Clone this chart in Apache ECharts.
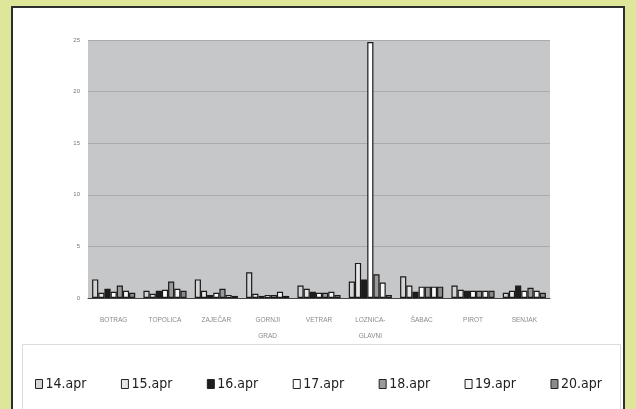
<!DOCTYPE html>
<html>
<head>
<meta charset="utf-8">
<script src="https://cdn.jsdelivr.net/npm/echarts@6/dist/echarts.min.js"></script>
<style>
  html, body { margin: 0; padding: 0; }
  body { width: 636px; height: 409px; background: #dde699; position: relative; overflow: hidden; }
  #frame {
    position: absolute; left: 11px; top: 6px; width: 610px; height: 420px;
    background: #fff; border: 2px solid #2e2e2e;
  }
  #chart { position: absolute; left: 0; top: 0; width: 636px; height: 409px; }
</style>
</head>
<body>
<div id="frame"></div>
<div id="chart"></div>
<script>
const categories = [
  "BOTRAG", "TOPOLICA", "ZAJEČAR", "GORNJI\nGRAD", "VETRAR",
  "LOZNICA-\nGLAVNI", "ŠABAC", "PIROT", "SENJAK"
];
const seriesNames = ["14.apr", "15.apr", "16.apr", "17.apr", "18.apr", "19.apr", "20.apr"];
const apr14 = [1.8, 0.7, 1.8, 2.5, 1.2, 1.6, 2.1, 1.2, 0.5];
const apr15 = [0.5, 0.4, 0.7, 0.4, 0.9, 3.4, 1.2, 0.8, 0.7];
const apr16 = [0.9, 0.7, 0.3, 0.2, 0.6, 1.8, 0.6, 0.7, 1.2];
const apr17 = [0.6, 0.8, 0.5, 0.3, 0.5, 24.8, 1.1, 0.7, 0.7];
const apr18 = [1.2, 1.6, 0.9, 0.3, 0.5, 2.3, 1.1, 0.7, 1.0];
const apr19 = [0.7, 0.9, 0.3, 0.6, 0.6, 1.5, 1.1, 0.7, 0.7];
const apr20 = [0.5, 0.7, 0.2, 0.2, 0.3, 0.3, 1.1, 0.7, 0.5];
const yTicks = [0, 5, 10, 15, 20, 25];

const values = [apr14, apr15, apr16, apr17, apr18, apr19, apr20];
const fills = ["#d4d4d4", "#e6e6e6", "#1e1e1e", "#ffffff", "#9a9a9a", "#f6f6f6", "#8a8a8a"];

const chart = echarts.init(document.getElementById("chart"));

const series = seriesNames.map((name, i) => ({
  name: name,
  type: "bar",
  data: values[i],
  barGap: "0%",
  barCategoryGap: "16%",
  itemStyle: { color: fills[i], borderColor: "#1a1a1a", borderWidth: 1.2 },
}));

chart.setOption({
  animation: false,
  backgroundColor: "transparent",
  grid: { left: 88, right: 86, top: 40, bottom: 111, show: true, backgroundColor: "#c6c7c9", borderWidth: 0 },
  xAxis: {
    type: "category",
    data: categories,
    axisLine: { lineStyle: { color: "#444", width: 1 } },
    axisTick: { show: false },
    axisLabel: { fontSize: 6.5, color: "#8a8a8a", lineHeight: 16, margin: 14, interval: 0 },
  },
  yAxis: {
    type: "value",
    min: yTicks[0],
    max: yTicks[yTicks.length - 1],
    interval: 5,
    axisLine: { show: false },
    axisTick: { show: false },
    axisLabel: { fontSize: 6, color: "#777", margin: 8 },
    splitLine: { lineStyle: { color: "#a9aaac", width: 1 } },
  },
  legend: {
    data: seriesNames,
    left: 30,
    top: 372,
    itemWidth: 7,
    itemHeight: 9,
    itemGap: 34.5,
    icon: "rect",
    itemStyle: { borderColor: "#222", borderWidth: 1 },
    textStyle: {
      fontFamily: "'Liberation Sans Narrow', 'DejaVu Sans Condensed', sans-serif",
      fontSize: 14,
      color: "#222",
      padding: [0, 0, 0, -2],
    },
  },
  graphic: [
    {
      type: "rect",
      shape: { x: 22.5, y: 344.5, width: 598, height: 80 },
      style: { fill: "none", stroke: "#dcdcdc", lineWidth: 1 },
      silent: true,
    },
  ],
  series: series,
});
</script>
</body>
</html>
